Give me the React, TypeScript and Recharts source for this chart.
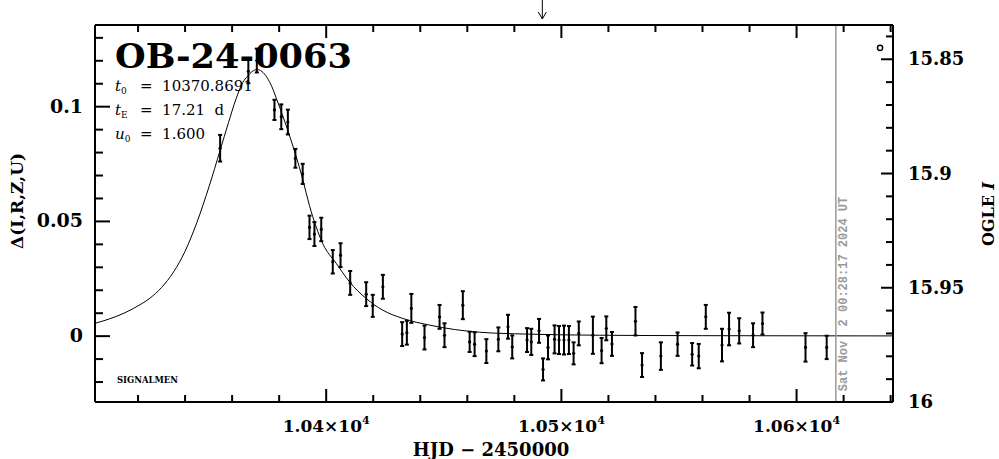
import React from "react";
import { ComposedChart, XAxis, YAxis, Scatter, Line, ErrorBar, ReferenceLine } from "recharts";

// ---- observed photometry (HJD-2450000, Δ mag, 1σ error) ----
const OBS_HJD = [
  10354.9, 10366.9, 10370.5, 10378.0, 10380.9, 10383.7, 10386.9, 10390.0, 10392.9, 10395.0,
  10397.9, 10402.8, 10406.1, 10410.2, 10417.0, 10419.8, 10424.1, 10432.3, 10434.3, 10436.2,
  10441.8, 10448.2, 10450.3, 10458.1, 10461.0, 10463.1, 10468.1, 10473.2, 10477.3, 10479.1,
  10485.4, 10487.2, 10490.5, 10492.2, 10494.3, 10497.1, 10499.0, 10501.1, 10503.2, 10505.2,
  10507.4, 10513.4, 10517.1, 10519.1, 10521.5, 10531.5, 10534.3, 10542.3, 10549.4, 10555.6,
  10558.4, 10561.4, 10568.3, 10571.3, 10575.6, 10581.5, 10585.5, 10603.8, 10612.8,
];
const OBS_DELTA = [
  0.0819, 0.1154, 0.1201, 0.0986, 0.0956, 0.0933, 0.0775, 0.0707, 0.0474, 0.0445,
  0.0465, 0.0324, 0.0353, 0.0232, 0.0183, 0.0132, 0.0215, 0.0009, 0.0015, 0.0121,
  -0.0006, 0.0084, 0.0004, 0.0135, -0.0025, -0.0035, -0.0065, -0.0014, 0.0041, -0.0047,
  -0.0017, -0.0025, 0.0023, -0.0145, -0.0049, -0.0014, -0.0017, -0.0017, -0.0017, -0.0075,
  0.0012, 0.0004, -0.0063, 0.0034, -0.0034, 0.0065, -0.0126, -0.0087, -0.0035, -0.0079,
  -0.0087, 0.0084, -0.0039, 0.0031, 0.0023, 0.0004, 0.0055, -0.0049, -0.0049,
];
const OBS_ERR = [
  0.0058, 0.0052, 0.0052, 0.0044, 0.0054, 0.0054, 0.0041, 0.0044, 0.0051, 0.0052,
  0.0051, 0.0051, 0.0052, 0.0052, 0.0052, 0.0048, 0.0052, 0.0052, 0.0052, 0.0063,
  0.0052, 0.0052, 0.0052, 0.0061, 0.0044, 0.0052, 0.0052, 0.0052, 0.0052, 0.0050,
  0.0052, 0.0057, 0.0052, 0.0048, 0.0052, 0.0061, 0.0061, 0.0063, 0.0061, 0.0048,
  0.0052, 0.0081, 0.0055, 0.0052, 0.0052, 0.0062, 0.0052, 0.0060, 0.0051, 0.0049,
  0.0053, 0.0052, 0.0071, 0.0071, 0.0055, 0.0052, 0.0048, 0.0062, 0.0051,
];

// ---- fitted model curve ----
const MODEL_HJD = [
  10301.7, 10307.8, 10314.0, 10320.0, 10325.0, 10330.0, 10335.0, 10340.0, 10345.0, 10350.3,
  10354.9, 10358.5, 10361.7, 10364.5, 10366.6, 10368.5, 10370.6, 10372.7, 10374.8, 10376.9,
  10379.0, 10383.7, 10388.6, 10394.3, 10398.6, 10404.3, 10409.9, 10417.0, 10424.1, 10432.6,
  10444.0, 10465.2, 10485.1, 10516.3, 10560.0, 10641.0,
];
const MODEL_DELTA = [
  0.0056, 0.0075, 0.0100, 0.0132, 0.0165, 0.0212, 0.0278, 0.0370, 0.0495, 0.0655,
  0.0810, 0.0932, 0.1035, 0.1105, 0.1133, 0.1153, 0.1162, 0.1153, 0.1128, 0.1087,
  0.1031, 0.0896, 0.0736, 0.0520, 0.0402, 0.0317, 0.0237, 0.0164, 0.0113, 0.0077,
  0.0048, 0.0017, 0.0009, 0.0004, 0.0002, 0.0001,
];

// ---- OGLE reference point (right axis) ----
const OGLE_HJD = [10635.5];
const OGLE_I = [15.845];

// ---- annotations ----
const ARROW_HJD = 10491.9;
const NOW_HJD = 10616.7;
const NOW_LABEL = "Sat Nov  2 00:28:17 2024 UT";
const TITLE = "OB-24-0063";
const PARAM_NAMES = ["t", "t", "u"];
const PARAM_SUBS = ["0", "E", "0"];
const PARAM_VALUES = ["10370.8691", "17.21  d", "1.600"];

// ---- axes ----
const X_DOMAIN = [10301.7, 10641.0];
const X_TICKS = [10320, 10340, 10360, 10380, 10400, 10420, 10440, 10460, 10480, 10500, 10520, 10540, 10560, 10580, 10600, 10620, 10640];
const X_MAJOR = [10400, 10500, 10600];
const X_MAJOR_MANTISSA = ["1.04", "1.05", "1.06"];
const X_MAJOR_EXP = ["4", "4", "4"];
const LEFT_DOMAIN = [-0.0287, 0.1356];
const LEFT_TICKS = [-0.02, -0.01, 0, 0.01, 0.02, 0.03, 0.04, 0.05, 0.06, 0.07, 0.08, 0.09, 0.1, 0.11, 0.12, 0.13];
const LEFT_MAJOR = [0, 0.05, 0.1];
const LEFT_MAJOR_LABELS = ["0", "0.05", "0.1"];
const RIGHT_DOMAIN = [15.835, 16.0];
const RIGHT_TICKS = [15.84, 15.85, 15.86, 15.87, 15.88, 15.89, 15.9, 15.91, 15.92, 15.93, 15.94, 15.95, 15.96, 15.97, 15.98, 15.99, 16.0];
const RIGHT_MAJOR = [15.85, 15.9, 15.95, 16.0];
const RIGHT_MAJOR_LABELS = ["15.85", "15.9", "15.95", "16"];

const obsData = OBS_HJD.map((x, i) => ({ x, y: OBS_DELTA[i], err: OBS_ERR[i] }));
const modelData = MODEL_HJD.map((x, i) => ({ x, y: MODEL_DELTA[i] }));
const ogleData = OGLE_HJD.map((x, i) => ({ x, y: OGLE_I[i] }));

const FONT = "'DejaVu Serif', serif";
const findIdx = (arr: number[], v: number) => arr.findIndex((m) => Math.abs(m - v) < 1e-6);

const BottomTick = (props: any) => {
  const { x, y, payload } = props;
  const idx = findIdx(X_MAJOR, payload.value);
  const major = idx >= 0;
  return (
    <g>
      <line x1={x} x2={x} y1={y} y2={y - (major ? 13 : 7)} stroke="#000" strokeWidth={2} />
      {major && (
        <text x={x} y={y + 30} textAnchor="middle" fontFamily={FONT} fontWeight="bold" fontSize={17} fill="#000">
          {X_MAJOR_MANTISSA[idx]}×10
          <tspan dy={-8} fontSize={11}>{X_MAJOR_EXP[idx]}</tspan>
        </text>
      )}
    </g>
  );
};

const TopTick = (props: any) => {
  const { x, y, payload } = props;
  const major = findIdx(X_MAJOR, payload.value) >= 0;
  return <line x1={x} x2={x} y1={y} y2={y + (major ? 13 : 7)} stroke="#000" strokeWidth={2} />;
};

const LeftTick = (props: any) => {
  const { x, y, payload } = props;
  const idx = findIdx(LEFT_MAJOR, payload.value);
  const major = idx >= 0;
  return (
    <g>
      <line x1={x} x2={x + (major ? 15 : 8)} y1={y} y2={y} stroke="#000" strokeWidth={2} />
      {major && (
        <text x={x - 12} y={y + 6} textAnchor="end" fontFamily={FONT} fontWeight="bold" fontSize={19} fill="#000">
          {LEFT_MAJOR_LABELS[idx]}
        </text>
      )}
    </g>
  );
};

const RightTick = (props: any) => {
  const { x, y, payload } = props;
  const idx = findIdx(RIGHT_MAJOR, payload.value);
  const major = idx >= 0;
  return (
    <g>
      <line x1={x} x2={x - (major ? 12 : 7)} y1={y} y2={y} stroke="#000" strokeWidth={2} />
      {major && (
        <text x={x + 15} y={y + 6} textAnchor="start" fontFamily={FONT} fontWeight="bold" fontSize={18} fill="#000">
          {RIGHT_MAJOR_LABELS[idx]}
        </text>
      )}
    </g>
  );
};

const ArrowShape = (props: any) => {
  const { x1, y1, y2 } = props;
  const top = Math.min(y1, y2);
  return (
    <g>
      <line x1={x1} x2={x1} y1={top - 25} y2={top - 6} stroke="#000" strokeWidth={1} />
      <polyline points={`${x1 - 4},${top - 13} ${x1},${top - 6} ${x1 + 4},${top - 13}`} fill="none" stroke="#000" strokeWidth={1} />
    </g>
  );
};

const NowShape = (props: any) => {
  const { x1, y1, y2 } = props;
  const top = Math.min(y1, y2);
  const bottom = Math.max(y1, y2);
  const cy = bottom - 108;
  return (
    <g>
      <line x1={x1} x2={x1} y1={top} y2={bottom} stroke="#999" strokeWidth={1.5} />
      <text
        x={x1 + 11}
        y={cy}
        transform={`rotate(-90 ${x1 + 11} ${cy})`}
        textAnchor="middle"
        fontFamily="'Liberation Mono', 'DejaVu Sans Mono', monospace"
        fontWeight="bold"
        fontSize={12}
        fill="#999"
        style={{ whiteSpace: "pre" }}
      >
        {NOW_LABEL}
      </text>
    </g>
  );
};

const dot = (p: any) => <circle cx={p.cx} cy={p.cy} r={1.6} fill="#000" />;
const ring = (p: any) => <circle cx={p.cx} cy={p.cy} r={2.6} fill="none" stroke="#000" strokeWidth={1.5} />;

export default function App() {
  return (
    <div style={{ position: "absolute", left: 0, top: 0, width: 999, height: 459, background: "#fff" }}>
      <ComposedChart width={999} height={459} margin={{ top: 0, right: 0, bottom: 0, left: 0 }}>
        <XAxis
          xAxisId="bottom"
          dataKey="x"
          type="number"
          domain={X_DOMAIN}
          ticks={X_TICKS}
          interval={0}
          allowDataOverflow
          height={57}
          tickSize={0}
          tickMargin={0}
          tickLine={false}
          axisLine={{ stroke: "#000", strokeWidth: 2 }}
          tick={BottomTick}
        />
        <XAxis
          xAxisId="top"
          orientation="top"
          dataKey="x"
          type="number"
          domain={X_DOMAIN}
          ticks={X_TICKS}
          interval={0}
          allowDataOverflow
          height={25}
          tickSize={0}
          tickMargin={0}
          tickLine={false}
          axisLine={{ stroke: "#000", strokeWidth: 2 }}
          tick={TopTick}
        />
        <YAxis
          yAxisId="left"
          dataKey="y"
          type="number"
          domain={LEFT_DOMAIN}
          ticks={LEFT_TICKS}
          interval={0}
          allowDataOverflow
          width={95}
          tickSize={0}
          tickMargin={0}
          tickLine={false}
          axisLine={{ stroke: "#000", strokeWidth: 2 }}
          tick={LeftTick}
        />
        <YAxis
          yAxisId="right"
          orientation="right"
          dataKey="y"
          type="number"
          domain={RIGHT_DOMAIN}
          reversed
          ticks={RIGHT_TICKS}
          interval={0}
          allowDataOverflow
          width={106}
          tickSize={0}
          tickMargin={0}
          tickLine={false}
          axisLine={{ stroke: "#000", strokeWidth: 2 }}
          tick={RightTick}
        />
        <Line
          xAxisId="bottom"
          yAxisId="left"
          data={modelData}
          dataKey="y"
          type="monotone"
          stroke="#000"
          strokeWidth={1}
          dot={false}
          activeDot={false}
          isAnimationActive={false}
        />
        <Scatter xAxisId="bottom" yAxisId="left" data={obsData} dataKey="y" shape={dot} isAnimationActive={false}>
          <ErrorBar dataKey="err" direction="y" width={2} stroke="#000" strokeWidth={2} isAnimationActive={false} />
        </Scatter>
        <Scatter xAxisId="top" yAxisId="right" data={ogleData} dataKey="y" shape={ring} isAnimationActive={false} />
        <ReferenceLine xAxisId="bottom" yAxisId="left" x={NOW_HJD} shape={NowShape} />
        <ReferenceLine xAxisId="bottom" yAxisId="left" x={ARROW_HJD} shape={ArrowShape} />

        <text x={115} y={68} fontFamily={FONT} fontWeight="bold" fontSize={34} fill="#000" textLength={237} lengthAdjust="spacingAndGlyphs">
          {TITLE}
        </text>
        {PARAM_NAMES.map((n, i) => (
          <g key={i}>
            <text x={115} y={91 + i * 24} fontFamily={FONT} fontStyle="italic" fontSize={15} fill="#000">
              {n}
              <tspan dy={3} fontSize={9} fontStyle="normal">{PARAM_SUBS[i]}</tspan>
            </text>
            <text x={140} y={91 + i * 24} fontFamily={FONT} fontSize={15} fill="#000" style={{ whiteSpace: "pre" }}>
              {"=  " + PARAM_VALUES[i]}
            </text>
          </g>
        ))}
        <text x={117} y={383} fontFamily={FONT} fontWeight="bold" fontSize={9} fill="#000" textLength={61} lengthAdjust="spacingAndGlyphs">
          SIGNALMEN
        </text>
        <text x={491} y={456} textAnchor="middle" fontFamily={FONT} fontWeight="bold" fontSize={18} fill="#000">
          HJD − 2450000
        </text>
        <text x={23} y={201} transform="rotate(-90 23 201)" textAnchor="middle" fontFamily={FONT} fontWeight="bold" fontSize={17} fill="#000">
          Δ(I,R,Z,U)
        </text>
        <text x={994} y={214} transform="rotate(-90 994 214)" textAnchor="middle" fontFamily={FONT} fontWeight="bold" fontSize={16} fill="#000">
          OGLE <tspan fontStyle="italic">I</tspan>
        </text>
      </ComposedChart>
    </div>
  );
}
